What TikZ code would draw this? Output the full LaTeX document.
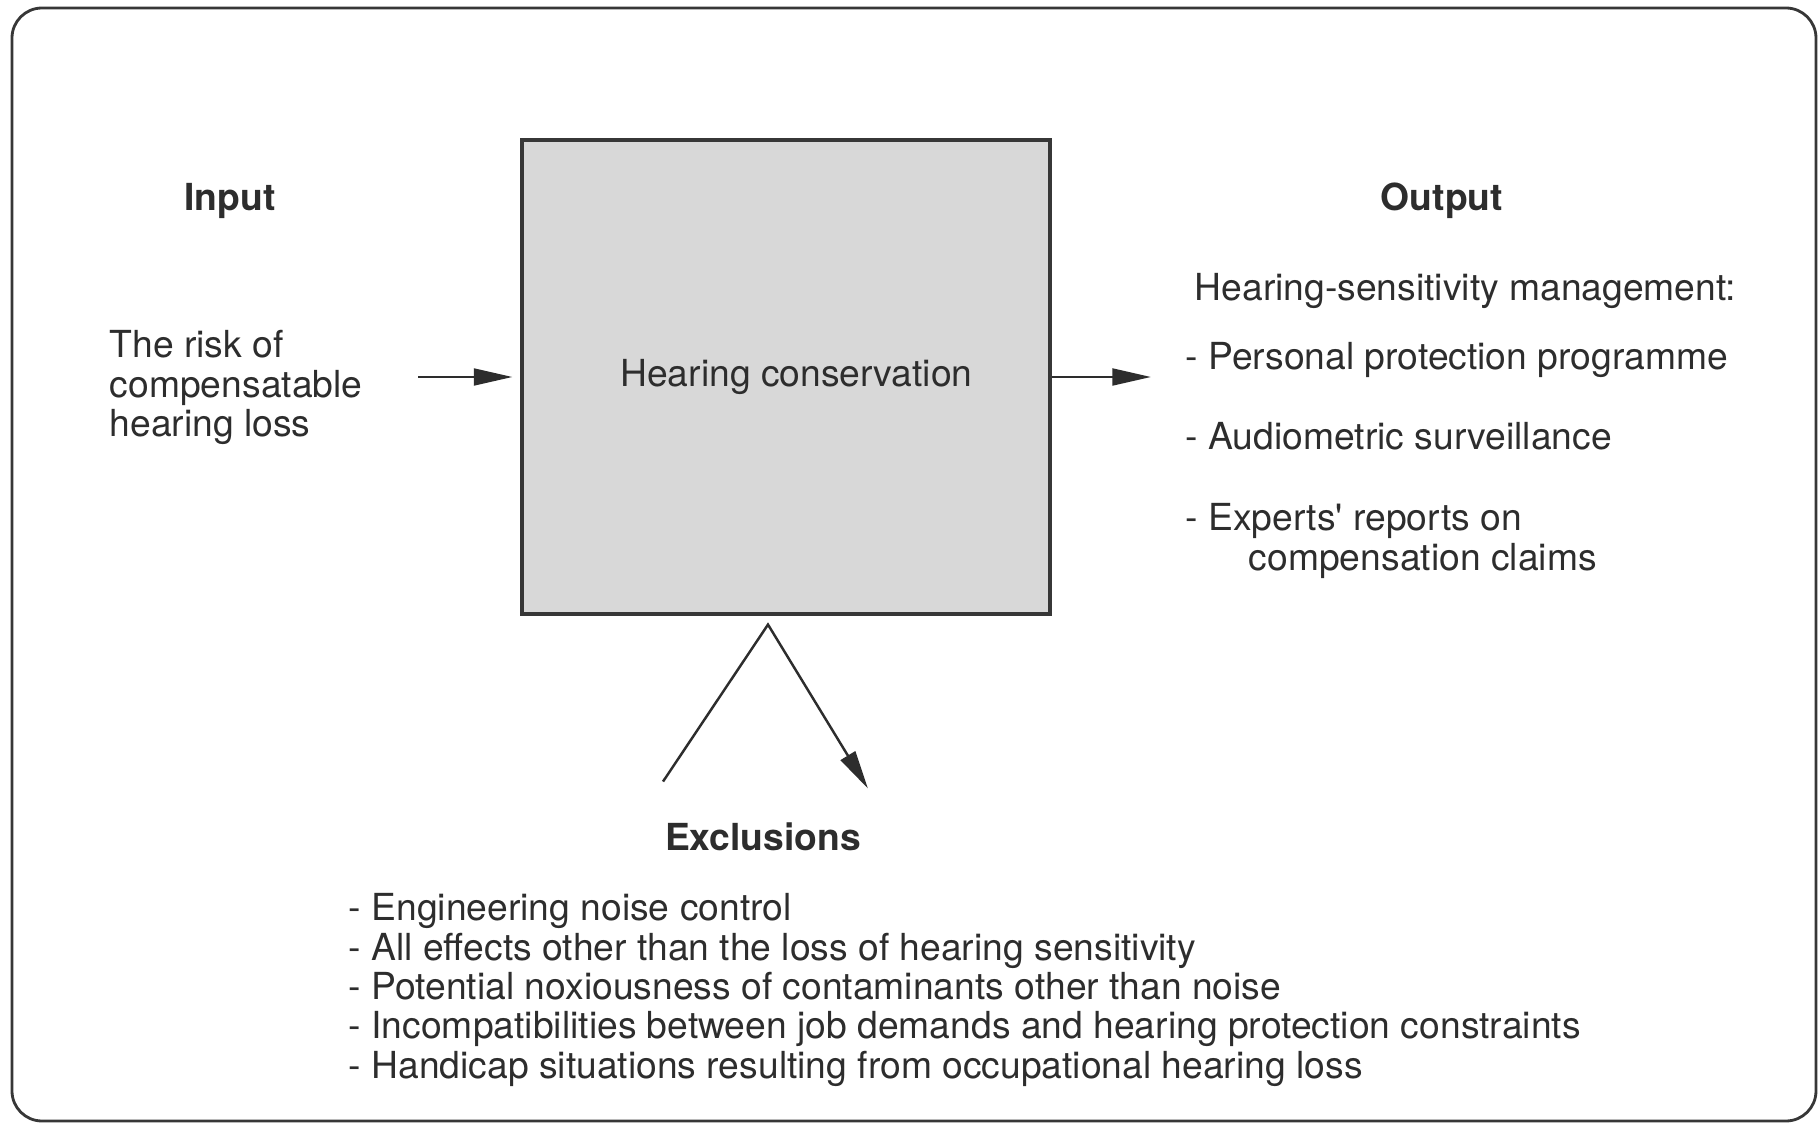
\documentclass[tikz,border=0pt]{standalone}
\usepackage{fontspec}
\setmainfont{TeX Gyre Heros}
\usepackage{xcolor}
\usepackage{tikz}
\usetikzlibrary{arrows.meta, positioning, calc}
\definecolor{hcInk}{RGB}{45,45,45}
\definecolor{hcFill}{RGB}{216,216,216}
\definecolor{hcFrame}{RGB}{55,55,55}

\begin{document}
\begin{tikzpicture}[
    font=\fontsize{10.6pt}{11.2pt}\selectfont, text=hcInk,
    block/.style={draw=hcFrame, fill=hcFill, line width=0.9pt,
                minimum width=52.8mm, minimum height=47.4mm, inner sep=0pt},
    heading/.style={font=\fontsize{10.6pt}{11.2pt}\selectfont\bfseries,
                anchor=base},
    txt/.style={align=left, inner sep=0pt},
    arr/.style={-{Triangle[length=11pt, width=4.8pt]}, line width=0.7pt,
                draw=hcInk}
]
\useasboundingbox (0,0) rectangle (18.2,11.25);

% Outer frame round the whole figure
\draw[hcFrame, line width=0.8pt, rounded corners=3mm]
    (0.12,0.04) rectangle (18.16,11.17);

% Central block
\node[block] (hc) at (7.86,7.48) {\hspace*{2.1mm}Hearing conservation};

% Left: input
\node[heading] (inp) at (2.30,9.14) {Input};
\node[txt, anchor=north west] (risk) at (1.09,7.95)
    {The risk of\\compensatable\\hearing loss};

% Right: output
\node[heading] (outp) at (14.42,9.14) {Output};
\node[txt, anchor=base west] (mgmt) at (11.94,8.24)
    {Hearing-sensitivity management:};
\node[txt, anchor=base west] (o1) at (11.85,7.55)
    {- Personal protection programme};
\node[txt, anchor=base west] (o2) at (11.85,6.75)
    {- Audiometric surveillance};
\node[txt, anchor=north west] (o3) at (11.85,6.22)
    {- Experts\textquotesingle{} reports on\\\hspace*{6.3mm}compensation claims};

% Bottom: exclusions
\node[heading] (excl) at (7.63,2.74) {Exclusions};
\node[txt, anchor=north west] (exlist) at (3.48,2.32)
    {- Engineering noise control\\
     - All effects other than the loss of hearing sensitivity\\
     - Potential noxiousness of contaminants other than noise\\
     - Incompatibilities between job demands and hearing protection constraints\\
     - Handicap situations resulting from occupational hearing loss};

% Input -> block, block -> output
\draw[arr, shorten <=5.5mm, shorten >=0.8mm] (risk.east |- hc.west) -- (hc.west);
\draw[arr, shorten >=4.3mm] (hc.east) -- (hc.east -| mgmt.west);

% Exclusions: the V below the block
\coordinate (apex) at ([xshift=-1.8mm, yshift=-0.9mm]hc.south);
\coordinate (vleft) at ([xshift=-10.5mm, yshift=-15.7mm]apex);
\coordinate (vright) at ([xshift=10.0mm, yshift=-16.4mm]apex);
\draw[arr] (vleft) -- (apex) -- (vright);

\end{tikzpicture}
\end{document}
